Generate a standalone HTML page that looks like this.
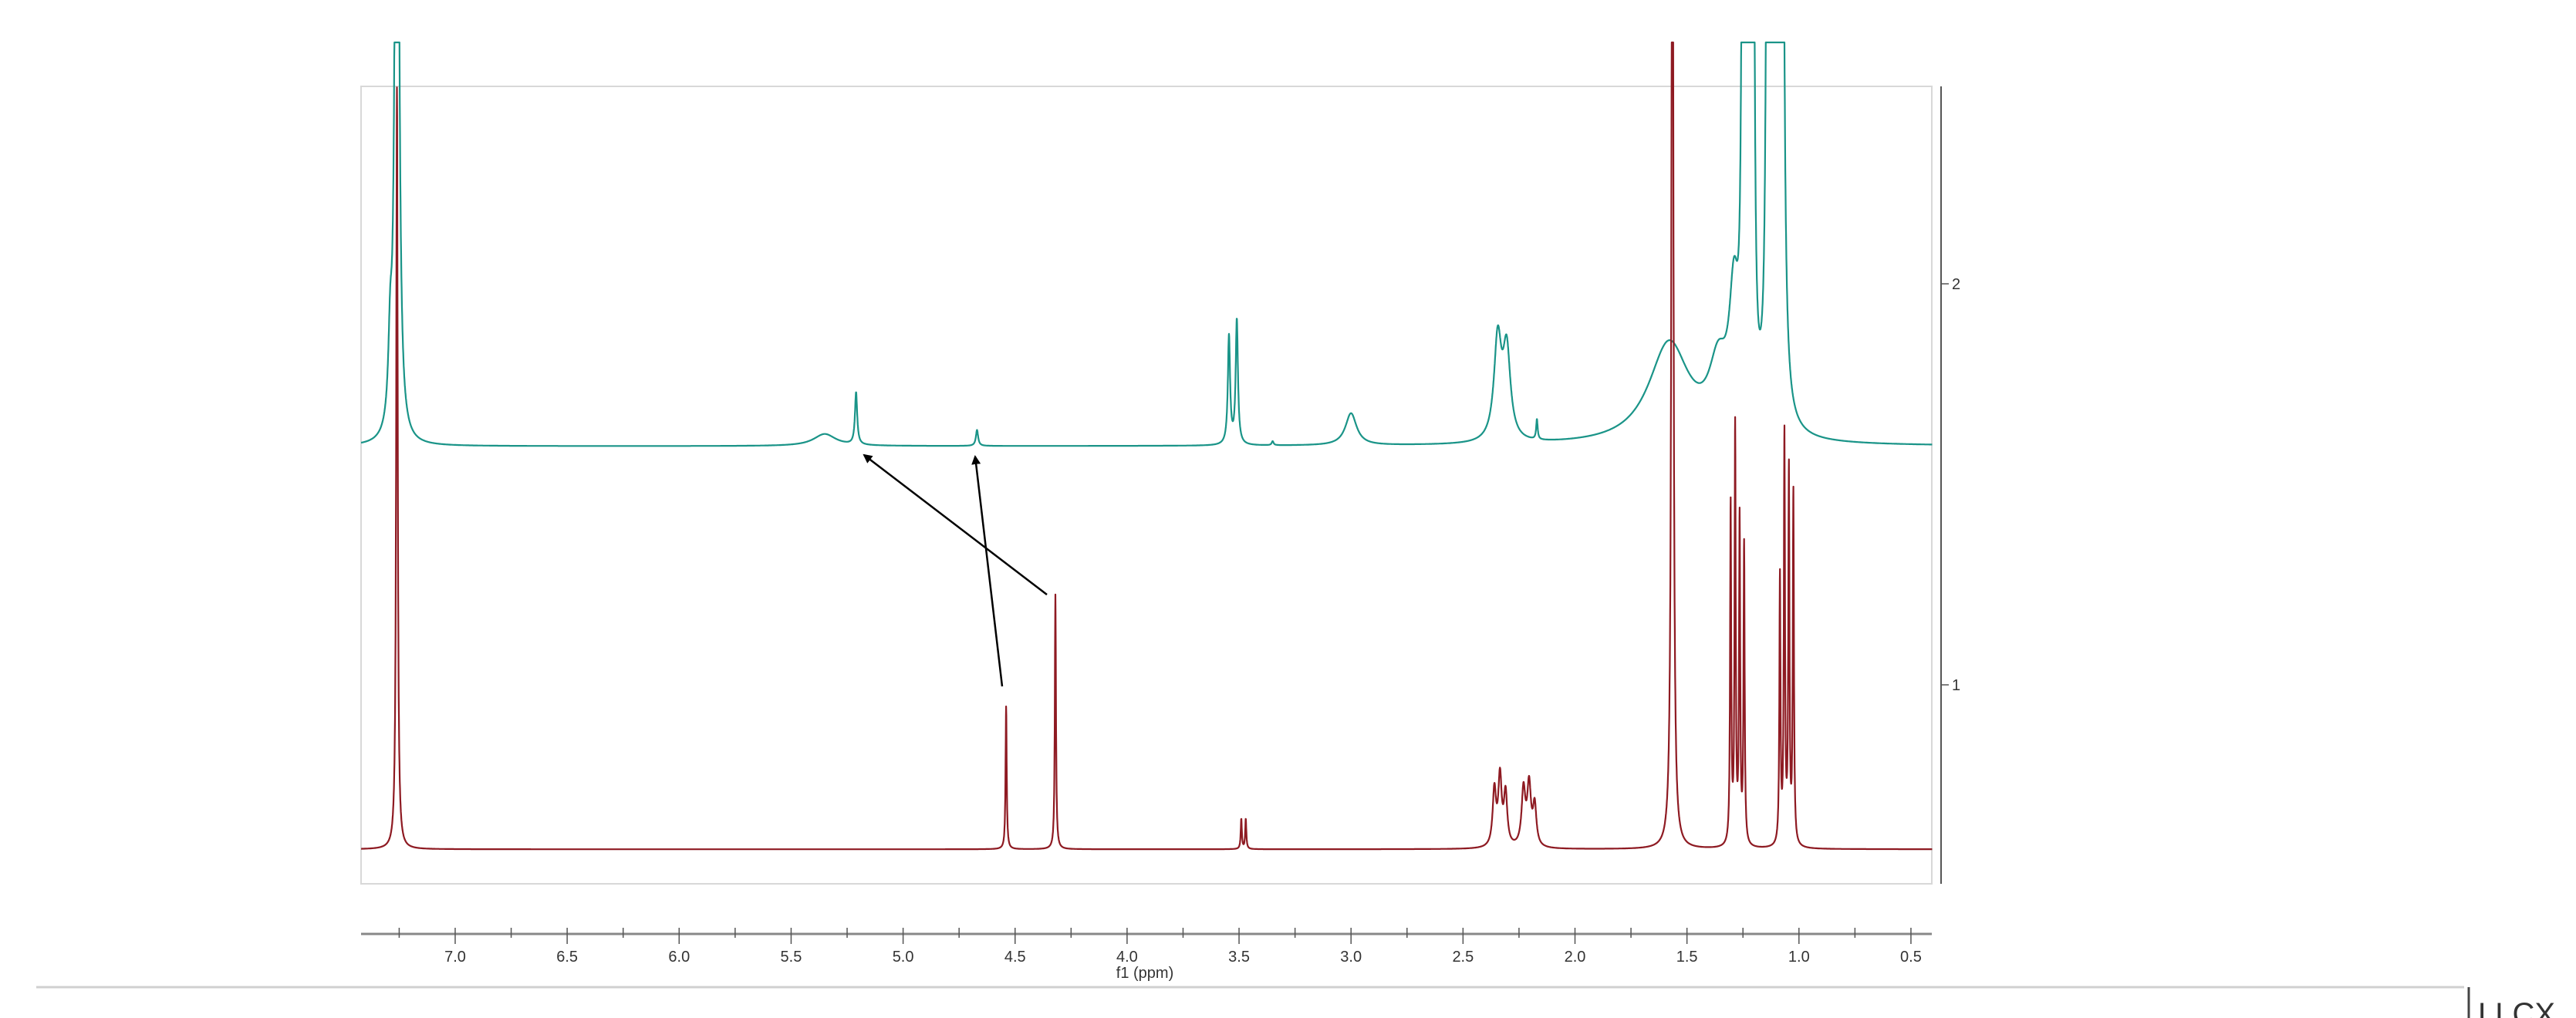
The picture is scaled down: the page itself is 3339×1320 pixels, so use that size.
<!DOCTYPE html>
<html><head><meta charset="utf-8"><style>
html,body{margin:0;padding:0;background:#fff;}
svg{display:block;font-family:"Liberation Sans",sans-serif;}
</style></head><body>
<svg id="chart" width="3339" height="1320" viewBox="0 0 3339 1320" xmlns="http://www.w3.org/2000/svg">
<rect x="468" y="112" width="2036" height="1034" fill="none" stroke="#d8d8d8" stroke-width="2"/>
<g id="spectra"></g>
<g id="xaxis"></g>
<g id="yaxis"></g>
<defs><marker id="ah" markerWidth="12" markerHeight="12" refX="10" refY="6" orient="auto" markerUnits="userSpaceOnUse"><path d="M0,0 L12,6 L0,12 Z" fill="#000"/></marker></defs>
<line x1="1357" y1="771" x2="1120" y2="590" stroke="#000" stroke-width="2.5" marker-end="url(#ah)"/>
<line x1="1299" y1="890" x2="1264" y2="592" stroke="#000" stroke-width="2.5" marker-end="url(#ah)"/>
<line x1="47" y1="1280" x2="3194" y2="1280" stroke="#d0d0d0" stroke-width="3"/>
<line x1="3200" y1="1280" x2="3200" y2="1320" stroke="#444" stroke-width="3"/>
<text x="3212" y="1328" font-size="40" fill="#333">LLCX</text>
</svg>
<script>
// ---- data ----
const xTicks = [7.0,6.5,6.0,5.5,5.0,4.5,4.0,3.5,3.0,2.5,2.0,1.5,1.0,0.5];
const xTickLabels = ["7.0","6.5","6.0","5.5","5.0","4.5","4.0","3.5","3.0","2.5","2.0","1.5","1.0","0.5"];
const yTicks = [1,2];
const yTickLabels = ["1","2"];
const redBaseline = 0.59;
// peaks: [ppm, height, half-width ppm]
const redPeaks = [
 [7.26,1.9,0.004],[4.54,0.356,0.003],[4.32,0.635,0.003],
 [3.49,0.075,0.003],[3.47,0.075,0.003],
 [2.36,0.14,0.009],[2.335,0.17,0.009],[2.31,0.13,0.009],
 [2.23,0.14,0.01],[2.205,0.15,0.01],[2.18,0.1,0.009],
 [1.565,3.0,0.005],
 [1.305,0.85,0.003],[1.285,1.04,0.003],[1.265,0.81,0.003],[1.245,0.75,0.003],
 [1.085,0.67,0.003],[1.065,1.02,0.003],[1.045,0.93,0.003],[1.025,0.88,0.003]
];
const tealBaseline = 1.595;
const tealPeaks = [
 [7.26,3.0,0.008],[7.29,0.2,0.01],
 [5.35,0.03,0.06],[5.21,0.13,0.006],[4.67,0.04,0.006],
 [3.545,0.27,0.006],[3.51,0.31,0.006],[3.35,0.01,0.005],
 [3.0,0.08,0.03],[2.345,0.25,0.02],[2.305,0.22,0.02],[2.17,0.05,0.004],
 [1.58,0.25,0.11],[1.36,0.16,0.05],[1.29,0.3,0.025],
 [1.25,2.0,0.006],[1.228,2.0,0.006],[1.205,2.0,0.006],
 [1.14,2.0,0.006],[1.125,2.0,0.006],[1.11,2.0,0.007],[1.09,2.0,0.007],[1.075,2.0,0.008]
];
// ---- axes ----
const X = p => 590 - (p - 7.0) * 290.3;
const Y = v => 888 - (v - 1) * 520;
const NS="http://www.w3.org/2000/svg";
function mk(tag,attrs,parent){const e=document.createElementNS(NS,tag);for(const k in attrs)e.setAttribute(k,attrs[k]);parent.appendChild(e);return e;}
const sp=document.getElementById('spectra');
function draw(peaks,base,color,name){
  let d="";
  for(let p=7.42;p>=0.405;p-=0.0008){
    let v=base;
    for(const [c,h,w] of peaks){const t=(p-c)/w;v+=h/(1+t*t);}
    let y=Math.max(55,Y(v));
    d+=(d?"L":"M")+X(p).toFixed(1)+","+y.toFixed(1);
  }
  const el=mk('path',{d:d,fill:'none',stroke:color,'stroke-width':2.2,'stroke-linejoin':'round'},sp);
  
  
}
draw(tealPeaks,tealBaseline,'#1a9488','teal-spectrum');
draw(redPeaks,redBaseline,'#8e1a22','red-spectrum');
const xa=document.getElementById('xaxis');
const al=mk('line',{x1:468,y1:1211,x2:2504,y2:1211,stroke:'#888','stroke-width':3},xa);


for(let p=7.25;p>=0.45;p-=0.25){
  const major=Math.abs(p*2-Math.round(p*2))<1e-6;
  mk('line',{x1:X(p),y1:1203,x2:X(p),y2:major?1224:1216,stroke:'#555','stroke-width':1.5},xa);
}
xTicks.forEach((t,i)=>{
  const tx=mk('text',{x:X(t),y:1247,'text-anchor':'middle','font-size':20,fill:'#333'},xa);
  tx.textContent=xTickLabels[i];
  
  
});
const xt=mk('text',{x:1484,y:1268,'text-anchor':'middle','font-size':20,fill:'#333'},xa);
xt.textContent="f1 (ppm)";


const ya=document.getElementById('yaxis');
mk('line',{x1:2516,y1:112,x2:2516,y2:1146,stroke:'#555','stroke-width':2},ya);
yTicks.forEach((t,i)=>{
  mk('line',{x1:2516,y1:Y(t),x2:2526,y2:Y(t),stroke:'#555','stroke-width':1.5},ya);
  const tx=mk('text',{x:2530,y:Y(t)+7,'font-size':20,fill:'#333'},ya);
  tx.textContent=yTickLabels[i];
  
  
});
</script>
</body></html>
